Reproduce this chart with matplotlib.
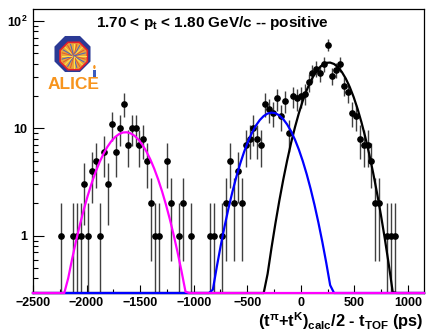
import numpy as np
import matplotlib
matplotlib.use("Agg")
import matplotlib.pyplot as plt
from matplotlib.patches import RegularPolygon, Rectangle, Ellipse
from matplotlib.ticker import MultipleLocator, LogLocator, NullFormatter, FixedLocator, FixedFormatter

plt.rcParams['font.family'] = ['Liberation Sans', 'DejaVu Sans']
plt.rcParams['font.weight'] = 'bold'
plt.rcParams['mathtext.fontset'] = 'custom'
plt.rcParams['mathtext.rm'] = 'Liberation Sans:bold'
plt.rcParams['mathtext.it'] = 'Liberation Sans:bold'
plt.rcParams['mathtext.bf'] = 'Liberation Sans:bold'

# TOF histogram, bin centre = t0 + bin_w * index
t0 = -2240.0
bin_w = 36.7
bin_index = [0, 3, 4, 5, 6, 7, 8, 9, 10, 11, 12, 13, 14, 15, 16, 17, 18, 19, 20,
             21, 22, 23, 24, 25, 27, 28, 30, 31, 33, 38, 39, 41, 42, 43, 44, 45,
             46, 47, 48, 49, 50, 51, 52, 53, 54, 55, 56, 57, 58, 59, 60, 61, 62,
             63, 64, 65, 66, 67, 68, 69, 70, 71, 72, 73, 74, 75, 76, 77, 78, 79,
             80, 81, 83, 84, 85]
counts = [1, 1, 1, 1, 3, 1, 4, 5, 1, 6, 3, 11, 6, 10, 17, 7, 10, 10, 7,
          8, 5, 2, 1, 1, 5, 2, 1, 2, 1, 1, 1, 1, 2, 5, 2, 4,
          2, 7, 8, 10, 8, 7, 17, 15, 14, 19, 13, 18, 9, 20, 19, 20, 21,
          27, 33, 36, 33, 40, 60, 31, 35, 40, 25, 22, 14, 13, 8, 7, 7, 5,
          2, 2, 1, 1, 1]

# gaussian fits: pions, kaons, protons
fit_amp = [41.0, 14.0, 9.2]
fit_mean = [262.0, -270.0, -1636.0]
fit_sigma = [190.0, 200.0, 214.0]
fit_color = ['black', '#0000ff', '#ff00ff']

xmin, xmax = -2500, 1150
ymin, ymax = 0.293, 129.0

W, H = 426, 335
fig = plt.figure(figsize=(W / 100, H / 100), dpi=100)
ax = fig.add_axes([33 / W, 1 - 293 / H, (424 - 33) / W, (293 - 9) / H])

t = t0 + bin_w * np.array(bin_index)
n = np.array(counts, dtype=float)
err = np.sqrt(n)
lo = np.maximum(n - err, 1e-3)
hi = n + err

ax.vlines(t, lo, hi, color='0.25', lw=1.0, zorder=2)
ax.plot(t, n, 'o', color='black', ms=3.8, zorder=3)

# fit curves, zero tails lie on the bottom of the frame
t_fine = np.linspace(xmin, xmax, 101)
for amp, mu, sig, col in zip(fit_amp, fit_mean, fit_sigma, fit_color):
    y = amp * np.exp(-0.5 * ((t_fine - mu) / sig) ** 2)
    y = np.clip(y, ymin, None)
    ax.plot(t_fine, y, color=col, lw=1.6, clip_on=False, zorder=4)

ax.set_yscale('log')
ax.set_xlim(xmin, xmax)
ax.set_ylim(ymin, ymax)

ax.xaxis.set_major_locator(MultipleLocator(500))
ax.xaxis.set_minor_locator(MultipleLocator(250))
ax.yaxis.set_major_locator(FixedLocator([1, 10, 100]))
ax.yaxis.set_major_formatter(FixedFormatter(['1', '10', r'10$^{2}$']))
ax.yaxis.set_minor_locator(LogLocator(base=10, subs=np.arange(2, 10)))
ax.yaxis.set_minor_formatter(NullFormatter())

ax.tick_params(which='both', direction='in', top=False, right=False,
               labelsize=9, width=0.8)
ax.tick_params(axis='y', which='major', length=8, pad=4)
ax.tick_params(axis='y', which='minor', length=3.8)
ax.tick_params(axis='x', which='major', length=6, pad=3)
ax.tick_params(axis='x', which='minor', length=3)
for lab in ax.get_xticklabels() + ax.get_yticklabels():
    lab.set_fontweight('bold')
for s in ax.spines.values():
    s.set_linewidth(0.9)

fig.text(212.5 / W, 1 - 27.5 / H, r'1.70 < p$_{t}$ < 1.80 GeV/c -- positive',
         ha='center', va='baseline', fontsize=11, fontweight='bold')
fig.text(423 / W, 1 - 327 / H, r'(t$^{\pi}$+t$^{K}$)$_{calc}$/2 - t$_{TOF}$ (ps)',
         ha='right', va='baseline', fontsize=11.8, fontweight='bold')

# ALICE logo
lax = fig.add_axes([48 / W, 1 - 92 / H, 52 / W, 59 / H])
lax.set_xlim(0, 52)
lax.set_ylim(59, 0)
lax.axis('off')
lax.add_patch(RegularPolygon((24.5, 21.0), 8, radius=19.5, orientation=np.pi / 8,
                             fc='#2b3a95', ec='none'))
lax.add_patch(RegularPolygon((25.7, 23.0), 8, radius=14.8, orientation=np.pi / 8,
                             fc='#e9a53a', ec='#e8202a', lw=1.2))
ang = np.linspace(0, 2 * np.pi, 24, endpoint=False)
for i, a in enumerate(ang):
    c = ['#ffe44d', '#e2562a', '#4a63c0'][i % 3]
    lax.plot([25.7, 25.7 + 12 * np.cos(a)], [23.0, 23.0 + 12 * np.sin(a)],
             color=c, lw=0.7)
lax.add_patch(Ellipse((25.7, 23.0), 6, 6, fc='#f08a24', ec='none'))
lax.add_patch(Rectangle((45.3, 37.0), 2.2, 6.5, fc='#3a5bbf', ec='none'))
lax.add_patch(Ellipse((46.4, 34.0), 2.4, 4.0, fc='#f7941d', ec='none'))
lax.text(25.8, 51.5, 'ALICE', color='#f7941d', fontsize=12.5, fontweight='bold',
         ha='center', va='center')

fig.savefig('out.png', dpi=100)
